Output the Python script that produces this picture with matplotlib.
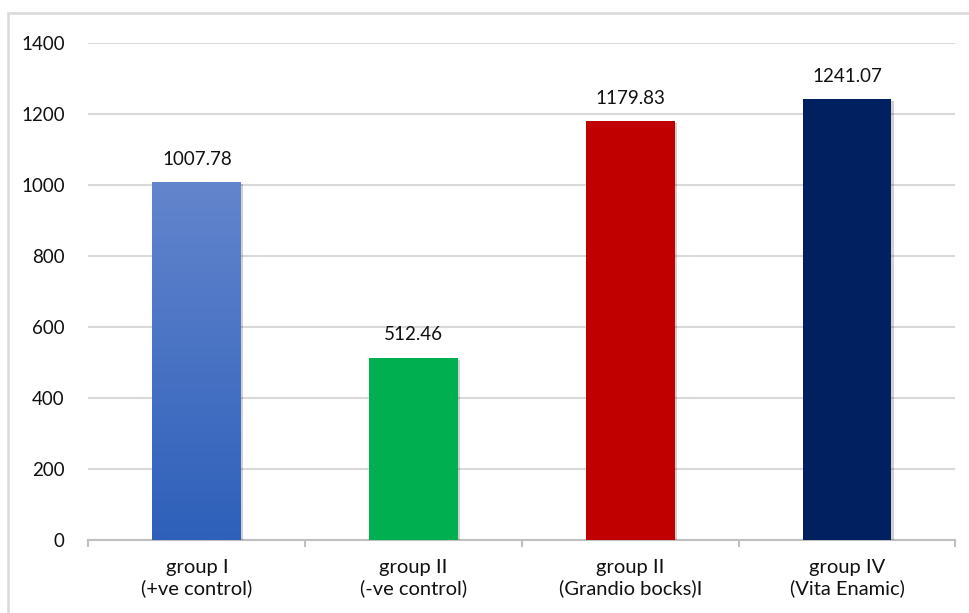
import numpy as np
import matplotlib.pyplot as plt
import matplotlib.patches as mpatches
from matplotlib import patheffects as pe

# data
groups = ['group I\n(+ve control)', 'group II\n(-ve control)',
          'group II\n(Grandio bocks)I', 'group IV\n(Vita Enamic)']
values = [1007.78, 512.46, 1179.83, 1241.07]
labels = ['1007.78', '512.46', '1179.83', '1241.07']
colors = ['#4672C4', '#00B050', '#C00000', '#002060']
yticks = [0, 200, 400, 600, 800, 1000, 1200, 1400]

plt.rcParams['font.family'] = ['Lato', 'DejaVu Sans']

fig = plt.figure(figsize=(9.69, 6.13), dpi=100)
ax = fig.add_axes([0.0913, 0.119, 0.8947, 0.811])

x = np.arange(len(groups))
shadow = [pe.SimplePatchShadow(offset=(1.5, -1.5), shadow_rgbFace='#000000', alpha=0.18), pe.Normal()]
bars = ax.bar(x, values, width=0.41, color=colors, zorder=3, path_effects=shadow)

# gradient fill on the first bar
b = bars[0]
grad = np.linspace(0, 1, 256).reshape(-1, 1)
cmap = plt.matplotlib.colors.LinearSegmentedColormap.from_list('bl', ['#2E60BA', '#6385CD'])
im = ax.imshow(grad, cmap=cmap, aspect='auto', origin='lower', zorder=3.5,
               extent=[b.get_x(), b.get_x() + b.get_width(), 0, b.get_height()])
im.set_clip_path(b)

for xi, v, t in zip(x, values, labels):
    ax.annotate(t, (xi, v), xytext=(0, 10.5), textcoords='offset points',
                ha='center', va='bottom', fontsize=13.5, color='#111111')

ax.set_xlim(-0.5, len(groups) - 0.5)
ax.set_ylim(0, 1400)
ax.set_yticks(yticks)
ax.set_yticklabels([str(v) for v in yticks], fontsize=13.5, color='#111111')
ax.set_xticks(x)
ax.set_xticklabels(groups, fontsize=14.5, color='#111111', linespacing=1.2)
ax.set_xticks(np.arange(-0.5, len(groups)), minor=True)
ax.tick_params(axis='x', which='major', length=0, pad=14)
ax.tick_params(axis='x', which='minor', length=5, width=1.5, color='#BFBFBF')
ax.tick_params(axis='y', length=0, pad=17)

ax.grid(axis='y', color='#D9D9D9', linewidth=1.5, zorder=0)
for s in ['top', 'right', 'left']:
    ax.spines[s].set_visible(False)
ax.spines['bottom'].set_color('#BFBFBF')
ax.spines['bottom'].set_linewidth(1.5)
ax.set_axisbelow(True)

# light frame round the chart
fig.patches.append(mpatches.Rectangle((8 / 969, -0.1), 1.2, (613 - 13) / 613 + 0.1,
                                      transform=fig.transFigure, fill=False,
                                      edgecolor='#D9D9D9', linewidth=1.8))

plt.savefig('out.png', dpi=100)
